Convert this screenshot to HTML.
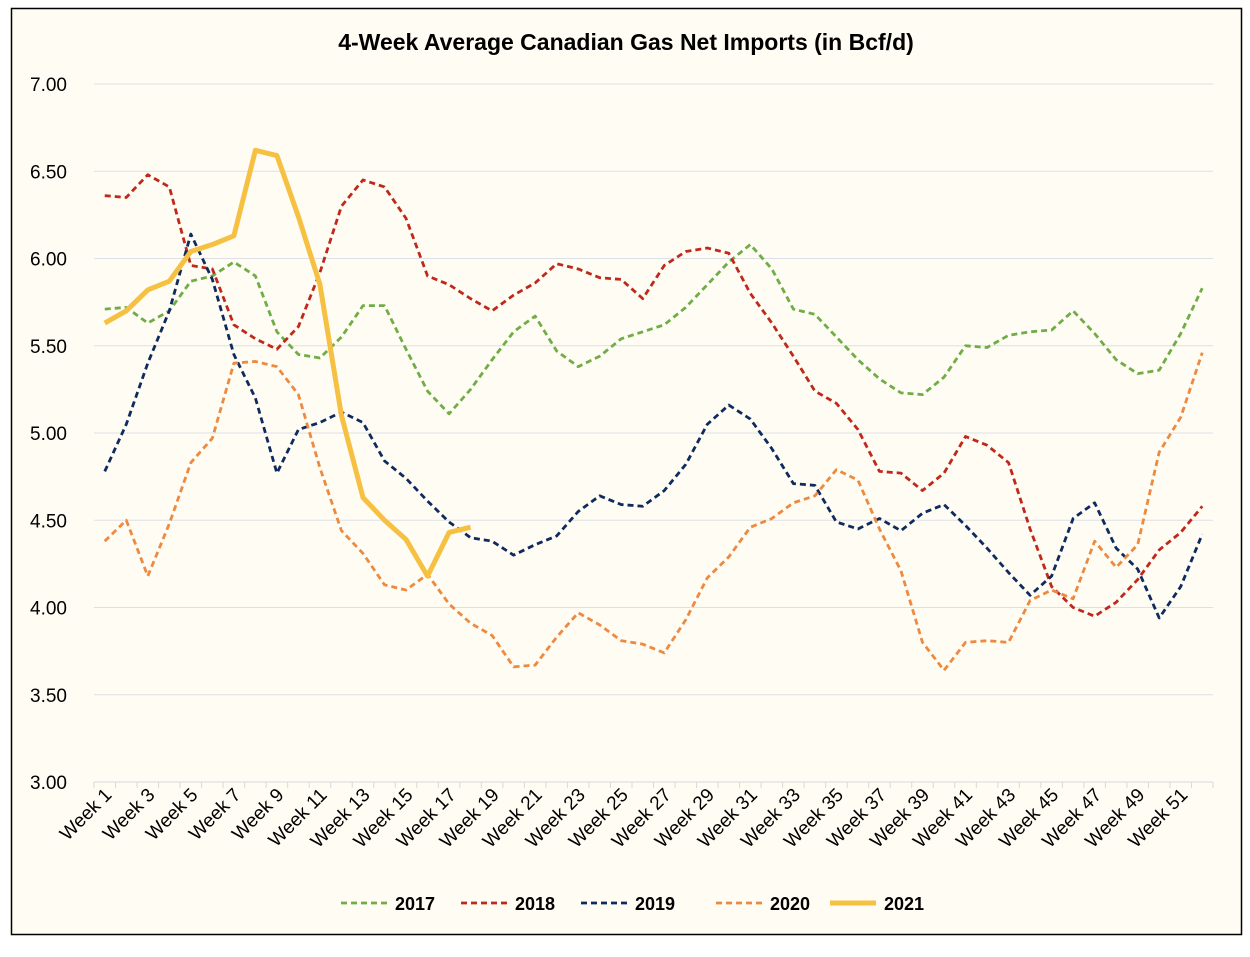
<!DOCTYPE html>
<html><head><meta charset="utf-8"><style>
body{margin:0;background:#fff;font-family:"Liberation Sans",sans-serif}
svg text{font-family:"Liberation Sans",sans-serif}
</style></head><body>
<svg id="chart" width="1250" height="952" xmlns="http://www.w3.org/2000/svg">
<rect x="11.5" y="8.5" width="1230" height="926" fill="#fefcf3" stroke="#000" stroke-width="1.5"/>
<text x="626" y="50" text-anchor="middle" font-size="23" font-weight="bold" fill="#000">4-Week Average Canadian Gas Net Imports (in Bcf/d)</text>
<g id="grid"></g>
<g id="axes"></g>
<g id="series"></g>
<g id="legend"></g>
</svg>
<script>
const yTicks=[3,3.5,4,4.5,5,5.5,6,6.5,7];
const s2017=[5.71,5.72,5.63,5.70,5.87,5.90,5.98,5.90,5.58,5.45,5.43,5.55,5.73,5.73,5.48,5.24,5.11,5.25,5.42,5.58,5.67,5.47,5.38,5.44,5.54,5.58,5.62,5.72,5.85,5.98,6.08,5.94,5.71,5.68,5.55,5.42,5.31,5.23,5.22,5.32,5.50,5.49,5.56,5.58,5.59,5.70,5.57,5.42,5.34,5.36,5.57,5.83];
const s2018=[6.36,6.35,6.48,6.41,5.96,5.94,5.62,5.54,5.48,5.61,5.92,6.30,6.45,6.41,6.23,5.90,5.85,5.77,5.70,5.79,5.86,5.97,5.94,5.89,5.88,5.77,5.96,6.04,6.06,6.03,5.80,5.63,5.44,5.24,5.17,5.02,4.78,4.77,4.67,4.77,4.98,4.93,4.83,4.45,4.12,4.00,3.95,4.03,4.16,4.33,4.43,4.58];
const s2019=[4.78,5.05,5.40,5.70,6.14,5.88,5.45,5.20,4.77,5.02,5.06,5.12,5.06,4.84,4.74,4.61,4.49,4.40,4.38,4.30,4.36,4.41,4.55,4.64,4.59,4.58,4.67,4.82,5.05,5.16,5.08,4.91,4.71,4.70,4.49,4.45,4.51,4.44,4.54,4.59,4.47,4.34,4.20,4.07,4.18,4.51,4.60,4.34,4.22,3.94,4.12,4.42];
const s2020=[4.38,4.50,4.18,4.48,4.83,4.97,5.40,5.41,5.38,5.22,4.80,4.44,4.31,4.13,4.10,4.19,4.02,3.91,3.84,3.66,3.67,3.83,3.97,3.90,3.81,3.79,3.74,3.93,4.17,4.29,4.46,4.51,4.60,4.64,4.79,4.73,4.45,4.21,3.80,3.64,3.80,3.81,3.80,4.04,4.10,4.05,4.38,4.23,4.36,4.89,5.09,5.46];
const s2021=[5.63,5.70,5.82,5.87,6.04,6.08,6.13,6.62,6.59,6.24,5.85,5.10,4.63,4.50,4.39,4.18,4.43,4.46];
const seriesNames=["2017","2018","2019","2020","2021"];
const categories=[];for(let i=1;i<=52;i++)categories.push("Week "+i);

const NS="http://www.w3.org/2000/svg";
const X0=94,X1=1213,Y0=782,Y1=84;
const step=(X1-X0)/categories.length;
const xs=i=>X0+step*(i+0.5);
const ys=v=>Y0-(v-3)/(7-3)*(Y0-Y1);
function mk(tag,attrs,parent){const e=document.createElementNS(NS,tag);for(const k in attrs)e.setAttribute(k,attrs[k]);parent.appendChild(e);return e;}
const grid=document.getElementById('grid'),axes=document.getElementById('axes'),ser=document.getElementById('series'),leg=document.getElementById('legend');
yTicks.forEach(t=>{
  if(t>3){const l=mk('line',{x1:X0,x2:X1,y1:ys(t),y2:ys(t),stroke:'#dde0e6','stroke-width':1},grid);
  
  }
  const tx=mk('text',{x:67,y:ys(t)+7,'text-anchor':'end','font-size':19,fill:'#000'},axes);tx.textContent=t.toFixed(2);
  
  
});
const ax=mk('line',{x1:X0,x2:X1,y1:Y0,y2:Y0,stroke:'#d9d9d9','stroke-width':1},axes);


for(let i=0;i<=categories.length;i++){const tk=mk('line',{x1:X0+step*i,x2:X0+step*i,y1:Y0,y2:Y0+6,stroke:'#d9d9d9'},axes);

}
categories.forEach((c,i)=>{if(i%2)return;
  const x=xs(i)+8,y=Y0+14;
  const tx=mk('text',{x:x,y:y,'text-anchor':'end','font-size':19,fill:'#000',transform:`rotate(-45 ${x} ${y})`},axes);tx.textContent=c;
  
  
});
const styles=[{c:'#70ad47',w:2.8,d:'6 4'},{c:'#c0281c',w:2.8,d:'6 4'},{c:'#0f2a5e',w:2.8,d:'6 4'},{c:'#ed8a3f',w:2.8,d:'6 4'},{c:'#f6c142',w:5,d:''}];
[s2017,s2018,s2019,s2020,s2021].forEach((arr,k)=>{
  const st=styles[k];
  const p=mk('polyline',{points:arr.map((v,i)=>xs(i)+','+ys(v)).join(' '),fill:'none',stroke:st.c,'stroke-width':st.w,'stroke-dasharray':st.d,'stroke-linejoin':'round'},ser);
  
  
});
const lx=[341,461,581,716,830];
seriesNames.forEach((n,k)=>{
  const st=styles[k];
  const g=mk('g',{},leg);
  
  
  mk('line',{x1:lx[k],x2:lx[k]+46,y1:903,y2:903,stroke:st.c,'stroke-width':st.w,'stroke-dasharray':st.d},g);
  const t=mk('text',{x:lx[k]+54,y:910,'font-size':18,'font-weight':'bold',fill:'#000'},g);t.textContent=n;
});
</script>
</body></html>
